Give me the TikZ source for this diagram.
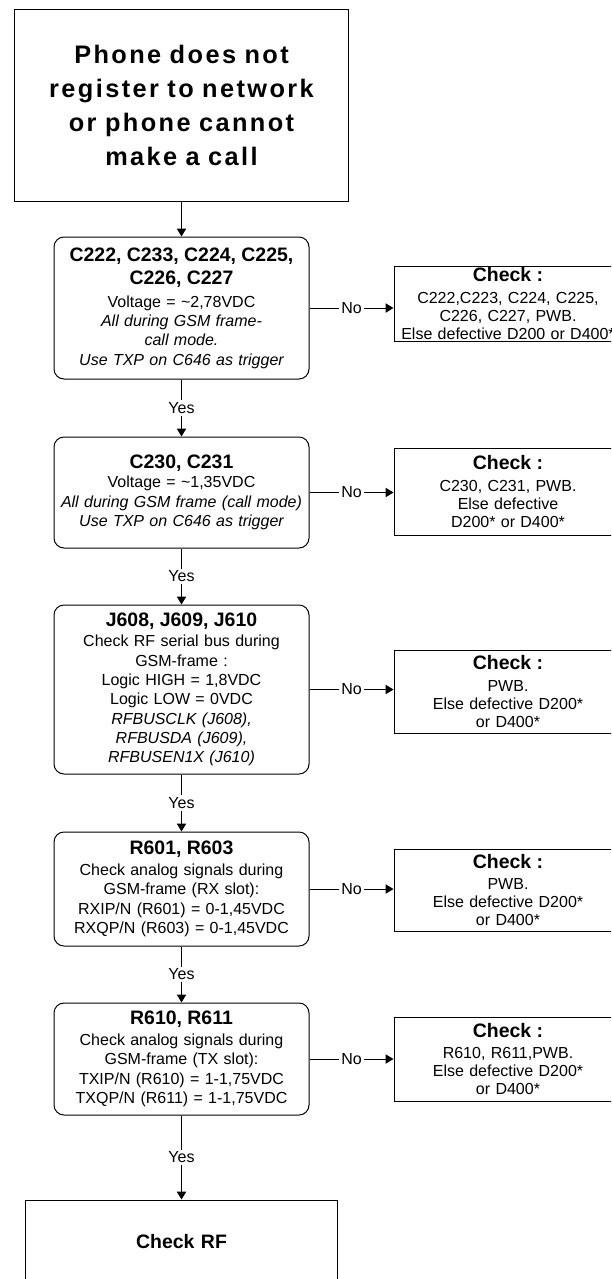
\documentclass[tikz,border=0pt]{standalone}
\usepackage{fontspec}
\setmainfont{Liberation Sans}
\newfontfamily\titlefont[LetterSpace=9.5]{Liberation Sans}
\usetikzlibrary{arrows.meta}

% bold heading lines of a box, followed by a small extra gap
\newcommand\boxhead[2][1pt]{{\fontsize{14.6}{17.25}\selectfont\bfseries #2\par}\vspace{#1}}

\tikzset{
  base/.style={draw=black, line width=0.75pt, align=center, inner xsep=0pt, inner ysep=0pt},
  startbox/.style={base, text width=251pt, minimum width=251pt, minimum height=144pt,
    font=\titlefont\bfseries\fontsize{19}{25.5}\selectfont},
  proc/.style={base, rounded corners=7.5pt, text width=191.25pt, minimum width=191.25pt,
    font=\fontsize{12}{14.5}\selectfont},
  chk/.style={base, text width=171pt, minimum width=171pt,
    font=\fontsize{12}{13.5}\selectfont},
  endbox/.style={base, text width=234pt, minimum width=234pt, minimum height=63pt,
    font=\bfseries\fontsize{14.6}{17.25}\selectfont},
  flow/.style={draw=black, line width=0.75pt, -{Triangle[length=6pt,width=7pt]}},
  lbl/.style={fill=white, inner sep=1.5pt, font=\fontsize{12}{14}\selectfont},
}

\begin{document}
\begin{tikzpicture}[x=0.75pt, y=-0.75pt]
\useasboundingbox (0,0) rectangle (611,1279);
\clip (0,0) rectangle (611,1279);

% main column
\node[startbox] (start) at (181.5,105)
  {Phone does not\\register to network\\or phone cannot\\make a call};

\node[proc, minimum height=106.5pt] (c1) at (181.5,308)
  {\boxhead[2.75pt]{C222, C233, C224, C225,\\C226, C227}%
   Voltage = \textasciitilde2,78VDC\\
   \itshape All during GSM frame-\\call mode.\\Use TXP on C646 as trigger};

\node[proc, minimum height=83.25pt] (c2) at (181.5,492.5)
  {\boxhead[0pt]{C230, C231}%
   Voltage = \textasciitilde1,35VDC\\
   \itshape All during GSM frame (call mode)\\Use TXP on C646 as trigger};

\node[proc, minimum height=126.75pt] (c3) at (181.5,689.5)
  {\boxhead{J608, J609, J610}%
   Check RF serial bus during\\GSM-frame :\\Logic HIGH = 1,8VDC\\Logic LOW = 0VDC\\
   \itshape RFBUSCLK (J608),\\RFBUSDA (J609),\\RFBUSEN1X (J610)};

\node[proc, minimum height=85.5pt] (c4) at (181.5,889)
  {\boxhead{R601, R603}%
   Check analog signals during\\GSM-frame (RX slot):\\RXIP/N (R601) = 0-1,45VDC\\RXQP/N (R603) = 0-1,45VDC};

\node[proc, minimum height=84pt] (c5) at (181.5,1059)
  {\boxhead{R610, R611}%
   Check analog signals during\\GSM-frame (TX slot):\\TXIP/N (R610) = 1-1,75VDC\\TXQP/N (R611) = 1-1,75VDC};

\node[endbox] (rf) at (181.5,1242) {Check RF};

% repair boxes on the right
\node[chk, minimum height=56.25pt] (k1) at (508,303.5)
  {\boxhead[2.5pt]{Check :}%
   C222,C223, C224, C225,\\C226, C227, PWB.\\Else defective D200 or D400*};
\node[chk, minimum height=65.25pt] (k2) at (508,491.5)
  {\boxhead[2.5pt]{Check :}%
   C230, C231, PWB.\\Else defective\\D200* or D400*};
\node[chk, minimum height=62.25pt] (k3) at (508,691.5)
  {\boxhead[2.5pt]{Check :}%
   PWB.\\Else defective D200*\\or D400*};
\node[chk, minimum height=61.5pt] (k4) at (508,890)
  {\boxhead[2.5pt]{Check :}%
   PWB.\\Else defective D200*\\or D400*};
\node[chk, minimum height=63pt] (k5) at (508,1059)
  {\boxhead[2.5pt]{Check :}%
   R610, R611,PWB.\\Else defective D200*\\or D400*};

% connectors
\draw[flow] (start) -- (c1);
\draw[flow] (c1) -- node[lbl]{Yes} (c2);
\draw[flow] (c2) -- node[lbl]{Yes} (c3);
\draw[flow] (c3) -- node[lbl]{Yes} (c4);
\draw[flow] (c4) -- node[lbl]{Yes} (c5);
\draw[flow] (c5) -- node[lbl]{Yes} (rf);

\draw[flow] (c1.east) -- node[lbl]{No} (c1.east -| k1.west);
\draw[flow] (c2.east) -- node[lbl]{No} (c2.east -| k2.west);
\draw[flow] (c3.east) -- node[lbl]{No} (c3.east -| k3.west);
\draw[flow] (c4.east) -- node[lbl]{No} (c4.east -| k4.west);
\draw[flow] (c5.east) -- node[lbl]{No} (c5.east -| k5.west);
\end{tikzpicture}
\end{document}
